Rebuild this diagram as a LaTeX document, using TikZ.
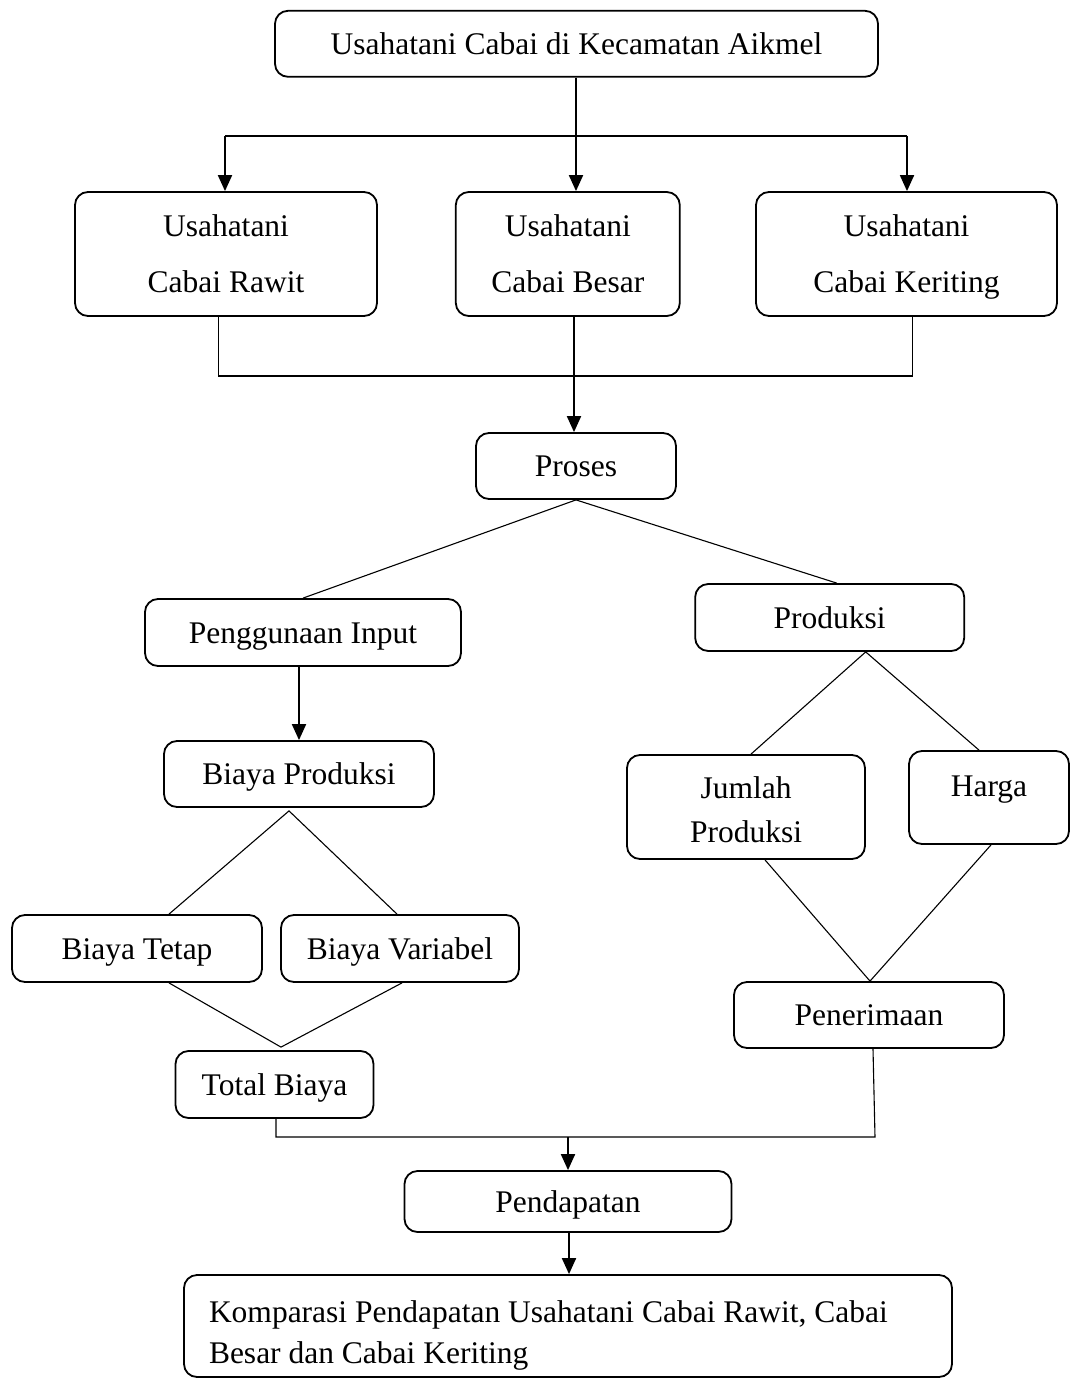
\documentclass[tikz,border=0pt]{standalone}
\usepackage{fontspec}
\setmainfont{Liberation Serif}
\usetikzlibrary{arrows.meta,calc}
\tikzset{
  box/.style={draw, line width=1.8pt, rounded corners=13pt, inner sep=0pt, align=center,
    font=\fontsize{31.5}{56}\selectfont},
  single/.style={box, text height=21.5pt, text depth=0pt},
  arr/.style={line width=1.9pt, -{Triangle[length=16pt,width=14pt]}},
  thinl/.style={line width=1.1pt},
}
\begin{document}
\begin{tikzpicture}[x=1pt,y=-1pt]
\useasboundingbox (0,0) rectangle (1071,1378);
\node[single, minimum width=603pt, minimum height=66pt] (top) at (576.5,43.8) {Usahatani Cabai di Kecamatan Aikmel};
\node[box, minimum width=302pt, minimum height=124pt] (rawit) at (226,254) {Usahatani\\Cabai Rawit};
\node[box, minimum width=224pt, minimum height=124pt] (besar) at (567.8,254) {Usahatani\\Cabai Besar};
\node[box, minimum width=301pt, minimum height=124pt] (keriting) at (906.5,254) {Usahatani\\\raisebox{0pt}[\height][0pt]{Cabai Keriting}};
\node[single, minimum width=200pt, minimum height=66pt] (proses) at (576,466) {Proses};
\node[single, minimum width=316pt, minimum height=67pt] (penggunaan) at (303,632.5) {Penggunaan Input};
\node[single, minimum width=269pt, minimum height=67pt] (produksi) at (829.7,617.5) {Produksi};
\node[single, minimum width=270pt, minimum height=66pt] (biayaprod) at (299,774) {Biaya Produksi};
\node[single, minimum width=250pt, minimum height=67pt] (tetap) at (137,948.5) {Biaya Tetap};
\node[single, minimum width=238pt, minimum height=67pt] (variabel) at (400,948.5) {Biaya Variabel};
\node[single, minimum width=198pt, minimum height=67pt] (total) at (274.5,1084.5) {Total Biaya};
\node[box, minimum width=238pt, minimum height=104pt, font=\fontsize{31.5}{44}\selectfont] (jumlah) at (746,807) {\raisebox{-3pt}[\height][\depth]{Jumlah}\\\raisebox{-3pt}[\height][\depth]{Produksi}};
\node[box, text height=21.5pt, text depth=23pt, minimum width=160pt, minimum height=93pt] (harga) at (989,797.5) {Harga};
\node[single, minimum width=270pt, minimum height=66pt] (penerimaan) at (869,1015) {Penerimaan};
\node[single, minimum width=327pt, minimum height=61pt] (pendapatan) at (568,1201.5) {Pendapatan};
\node[box, minimum width=768pt, minimum height=102pt, font=\fontsize{31.5}{41}\selectfont] (komparasi) at (568,1326)
  {\raisebox{-9pt}[\height][\depth]{\parbox{718pt}{\raggedright Komparasi Pendapatan Usahatani Cabai Rawit, Cabai\\Besar dan Cabai Keriting}}};

% top split
\draw[arr] ([xshift=-0.5pt]top.south) -- ([xshift=-0.5pt]top.south |- besar.north);
\coordinate (sL) at (225,136);
\coordinate (sR) at (907,136);
\draw[thinl] (sL) -- (sR);
\draw[arr] (sL) -- (sL |- rawit.north);
\draw[arr] (sR) -- (sR |- keriting.north);

% merge
\coordinate (mL) at (218.5,376);
\coordinate (mR) at (912.5,376);
\draw[thinl] (mL |- rawit.south) -- (mL) -- (mR) -- (mR |- keriting.south);
\draw[arr] ([xshift=6.2pt]besar.south) -- ([xshift=6.2pt]besar.south |- proses.north);

% proses
\draw[thinl] (proses.south) -- (penggunaan.north);
\draw[thinl] (proses.south) -- ([xshift=7pt]produksi.north);
\draw[arr] (biayaprod.north |- penggunaan.south) -- (biayaprod.north);

% biaya
\coordinate (bpA) at ([xshift=-10pt,yshift=-3pt]biayaprod.south);
\draw[thinl] ([xshift=32pt]tetap.north) -- (bpA) -- ([xshift=-3pt]variabel.north);
\coordinate (tbA) at ([xshift=6.5pt,yshift=3pt]total.north);
\draw[thinl] ([xshift=32pt]tetap.south) -- (tbA) -- ([xshift=2pt]variabel.south);

% produksi
\coordinate (pA) at ([xshift=36pt]produksi.south);
\draw[thinl] ([xshift=5pt]jumlah.north) -- (pA) -- ([xshift=-10pt]harga.north);
\coordinate (peA) at ([xshift=1pt]penerimaan.north);
\draw[thinl] ([xshift=19pt]jumlah.south) -- (peA) -- ([xshift=2pt]harga.south);

% bottom merge
\coordinate (bR) at (875,1137);
\coordinate (bL) at (276,1137);
\coordinate (bM) at (568,1137);
\draw[thinl] ([xshift=4pt]penerimaan.south) -- (bR) -- (bL) -- (bL |- total.south);
\draw[arr] (bM) -- (bM |- pendapatan.north);
\draw[arr] ([xshift=1pt]pendapatan.south) -- ([xshift=1pt]pendapatan.south |- komparasi.north);
\end{tikzpicture}
\end{document}
